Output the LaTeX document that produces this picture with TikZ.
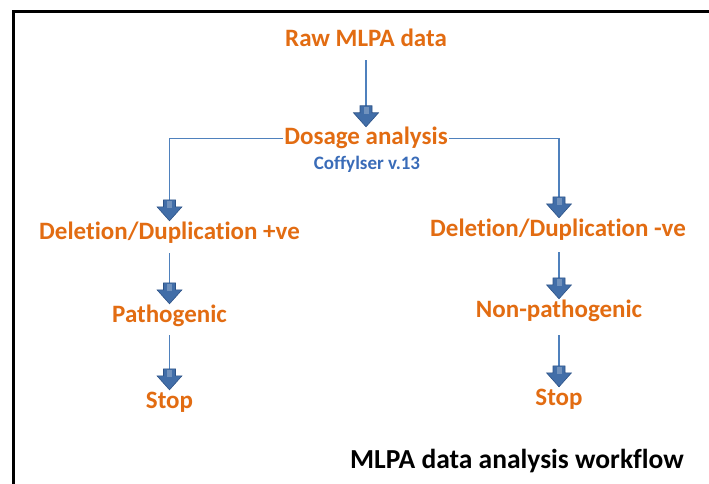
\documentclass[tikz,border=0pt]{standalone}
\usepackage{fontspec}
\setmainfont[RawFeature={-liga;-clig;-calt;-dlig}]{Carlito}
\usetikzlibrary{decorations.markings,calc}

\definecolor{stepor}{RGB}{226,108,18}
\definecolor{toolblue}{RGB}{58,108,184}
\definecolor{linkblue}{RGB}{79,129,189}
\definecolor{headfill}{RGB}{66,110,168}
\definecolor{headedge}{RGB}{44,82,135}

\tikzset{
  x=1pt, y=-1pt,
  stepnode/.style={inner sep=0pt, text height=18pt, text depth=5pt,
    font=\fontsize{25}{25}\selectfont\bfseries, text=stepor},
  toolnode/.style={inner sep=0pt, font=\fontsize{19}{19}\selectfont\bfseries, text=toolblue},
  titlenode/.style={inner sep=0pt, font=\fontsize{27.5}{27.5}\selectfont\bfseries, text=black},
  % thin connector finished by a fat block arrow head
  flowlink/.style={draw=linkblue, line width=1.3pt,
    postaction={decorate},
    decoration={markings, mark=at position 1 with {
      \fill[headfill, draw=headedge, line width=0.6pt]
        (0,0) -- (-14,12.5) -- (-14,6) -- (-21,6) -- (-21,-6)
        -- (-14,-6) -- (-14,-12.5) -- cycle;
      \fill[white, opacity=0.25] (-20,2.5) rectangle (-13,-2.5);
    }}},
}

\begin{document}
\begin{tikzpicture}
\useasboundingbox (0,0) rectangle (709,484);

% frame
\draw[line width=3pt, black] (13.5,484) -- (13.5,11.5) -- (709,11.5);

% nodes (anchored on their base lines)
\node[stepnode, anchor=base] (raw)  at (366,47)   {Raw MLPA data};
\node[stepnode, anchor=base] (dos)  at (366,145)  {Dosage analysis};
\node[toolnode, anchor=base] (tool) at (367,169.5) {Coffylser v.13};
\node[stepnode, anchor=base] (dpos) at (169.5,239) {Deletion/Duplication +ve};
\node[stepnode, anchor=base] (dneg) at (558,236)  {Deletion/Duplication -ve};
\node[stepnode, anchor=base] (path) at (169.5,322) {Pathogenic};
\node[stepnode, anchor=base] (stpl) at (169.5,408) {Stop};
\node[stepnode, anchor=base] (nonp) at (559,317)  {Non-pathogenic};
\node[stepnode, anchor=base] (stpr) at (559,405)  {Stop};
\node[titlenode, anchor=base west] (title) at (350,468) {MLPA data analysis workflow};

% connectors
\path[flowlink, shorten <=8pt, shorten >=1pt] (raw.south) -- (dos.north);
\path[flowlink, shorten <=1.5pt, shorten >=12pt] (dos.west) -| (dpos.north);
\path[flowlink, shorten <=1.5pt, shorten >=17pt] (dos.east) -| (dneg.north -| nonp.north);
\path[flowlink, shorten <=9pt, shorten >=5pt] (dpos.south) -- (path.north);
\path[flowlink, shorten <=8pt, shorten >=3pt] (path.south) -- (stpl.north);
\path[flowlink, shorten <=11pt, shorten >=2pt] (dneg.south -| nonp.south) -- (nonp.north);
\path[flowlink, shorten <=13pt, shorten >=0pt] (nonp.south) -- (stpr.north);
\end{tikzpicture}
\end{document}
